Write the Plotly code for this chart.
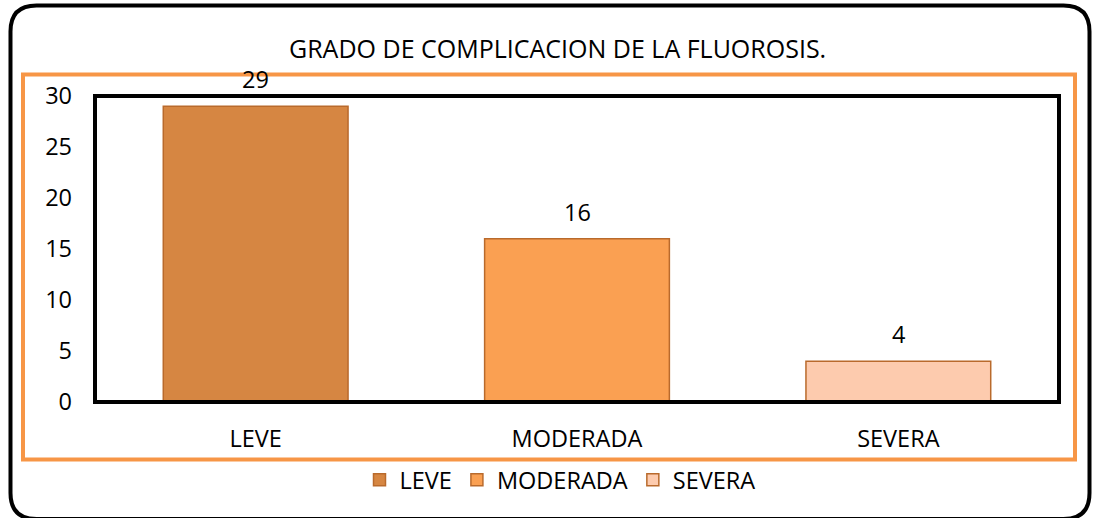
import plotly.graph_objects as go

categories = ["LEVE", "MODERADA", "SEVERA"]
values = [29, 16, 4]
colors = ["#D68642", "#FAA052", "#FDCBAE"]
y_ticks = [0, 5, 10, 15, 20, 25, 30]
title_text = "GRADO DE COMPLICACION DE LA FLUOROSIS."

FONT = "Open Sans"
FS = 23.5
FS_TITLE = 25

# pixel -> paper helpers (plot area: x 95..1059, y 96..402)
L, R, T, B = 95, 1059, 96, 402
W, H = R - L, B - T
def px(x):
    return (x - L) / W
def py(y):
    return (B - y) / H

fig = go.Figure()
for c, v, col in zip(categories, values, colors):
    fig.add_trace(go.Bar(
        x=[c], y=[v], name=c, width=0.575,
        marker=dict(color=col, line=dict(color="#B96A2C", width=1.5)),
    ))

annotations = []
for c, v in zip(categories, values):
    annotations.append(dict(x=c, y=v, xref="x", yref="y", text=str(v),
                            showarrow=False, yshift=27,
                            font=dict(family=FONT, size=FS, color="#000")))
annotations.append(dict(x=px(557), y=py(48), xref="paper", yref="paper",
                        text=title_text, showarrow=False,
                        xanchor="center", yanchor="middle",
                        font=dict(family=FONT, size=FS_TITLE, color="#000")))

# rounded outer frame (bottom edge falls just at the window's edge)
x0, y0, x1, y1, r = 10.5, 5.5, 1089.5, 519, 26
pts = [
    ("M", (x0 + r, y0)), ("L", (x1 - r, y0)), ("Q", (x1, y0), (x1, y0 + r)),
    ("L", (x1, y1 - r)), ("Q", (x1, y1), (x1 - r, y1)),
    ("L", (x0 + r, y1)), ("Q", (x0, y1), (x0, y1 - r)),
    ("L", (x0, y0 + r)), ("Q", (x0, y0), (x0 + r, y0)),
]
path = ""
for seg in pts:
    cmd = seg[0]
    coords = " ".join(f"{px(p[0]):.5f},{py(p[1]):.5f}" for p in seg[1:])
    path += f"{cmd}{coords} "
path += "Z"

shapes = [
    dict(type="path", path=path, xref="paper", yref="paper",
         line=dict(color="#000", width=4), layer="below"),
    dict(type="rect", xref="paper", yref="paper",
         x0=px(23), x1=px(1075), y0=py(459.5), y1=py(74.5),
         line=dict(color="#F79646", width=4), layer="below"),
    dict(type="rect", xref="paper", yref="paper",
         x0=0, x1=1, y0=0, y1=1,
         line=dict(color="#000", width=4), layer="above"),
]

fig.update_layout(
    width=1094, height=518,
    margin=dict(l=L, r=1094 - R, t=T, b=518 - B, pad=0),
    paper_bgcolor="white", plot_bgcolor="white",
    barmode="overlay",
    showlegend=True,
    legend=dict(orientation="h", x=px(560), y=py(480), xanchor="center",
                yanchor="middle", font=dict(family=FONT, size=FS, color="#000"),
                bgcolor="rgba(0,0,0,0)", itemwidth=30, tracegroupgap=0),
    annotations=annotations,
    shapes=shapes,
    font=dict(family=FONT, size=FS, color="#000"),
)
fig.update_xaxes(showgrid=False, showline=False, zeroline=False,
                 ticks="", ticklabelstandoff=20,
                 tickfont=dict(family=FONT, size=FS, color="#000"))
fig.update_yaxes(range=[0, 30], tickvals=y_ticks, showgrid=False, showline=False,
                 zeroline=False, ticks="", ticklabelstandoff=22,
                 tickfont=dict(family=FONT, size=FS, color="#000"))

fig.write_html("out.html", config={"displayModeBar": False},
               post_script="document.body.style.margin='0';document.body.style.overflow='hidden';")
